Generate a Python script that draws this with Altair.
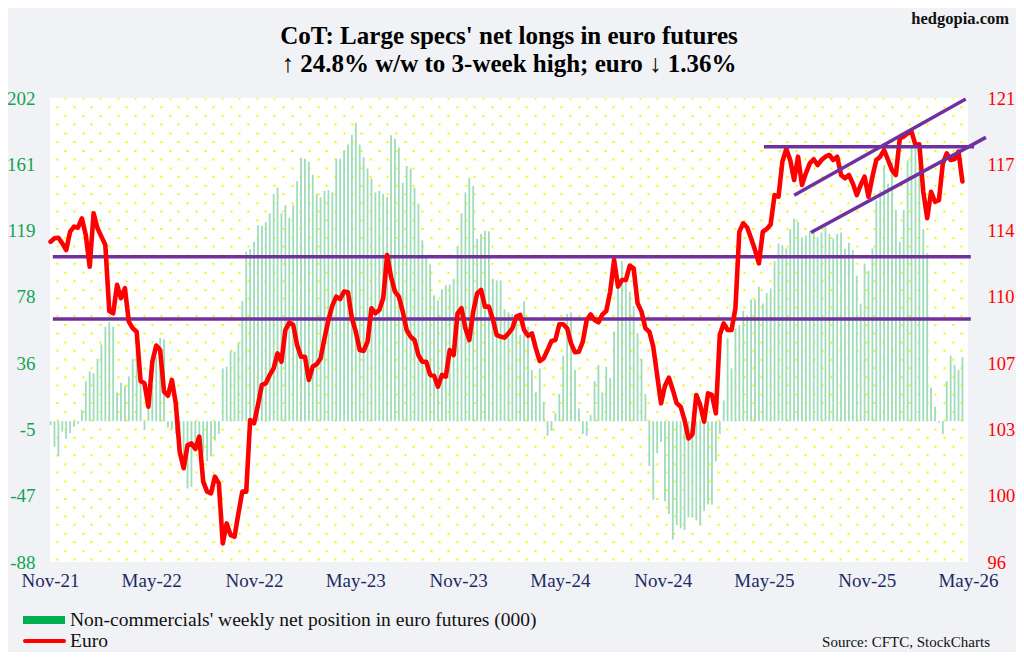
import altair as alt
import pandas as pd

# ---------------- data ----------------
start_date = pd.Timestamp("2021-11-02")

net_position = [
    -2.5, -16, -22, -6.5, -11, -7.5, -3.5, -1.5, 7, 25,
    31, 30, 39, 48, 59, 62, 59, 18, 24, 22,
    28, 39, 45.5, 25, -5.5, 16, 22.6, 40, 52, 51,
    -4, -5, -8, -12, -30, -42, -41, -18, -11, -20,
    -25, -22, -12, -8, 33, 34, 44, 43.5, 49, 75,
    106, 107.5, 112, 122.5, 122, 124.5, 130, 142, 146, 130,
    135, 127, 135, 150, 164.6, 164, 162, 154, 142, 140,
    144, 144.5, 143, 164, 164, 169, 173, 179, 186.5, 173,
    165, 158, 151.6, 143, 144, 142, 140, 178.7, 176.6, 171,
    149, 159.5, 158, 146, 136, 113, 102.7, 98, 78.7, 75.6,
    82.5, 85, 85.4, 89, 109, 130, 143, 152, 147, 114,
    117, 119, 118.7, 89, 88, 88, 70, 68, 67, 62,
    54, 75, 59, 32, 18, 33, 12, -9, -6, 5,
    17, 41, 67, 68, 32, 8, -8, -9, 4, 25,
    35, 18, 34, 27, 56, 88, 100, 88, 81, 72,
    55, 39, 17, -28, -49, -20, -13, -50, -58, -74,
    -65, -67, -68, -60, -60, -62, -65, -56, -52, -52,
    -25, -8, 13, 52, 33, 58, 60, 69, 66, 76,
    76, 84, 73.5, 80, 83, 100, 111, 110, 108, 120,
    126.6, 124.5, 115, 116, 119, 120, 115, 118, 121.5, 117,
    114, 117, 118, 108, 111.6, 107, 91, 73.5, 98.5, 94,
    108, 138, 144, 160, 148.5, 162, 132, 112, 132, 163,
    171, 173, 165, 120, 105, 21, 9, -1, -8, 25,
    41, 35, 32, 40,
]

euro = [
    113.26, 113.44, 113.47, 113.17, 112.81, 113.80, 114.07, 114.01, 114.52, 113.62,
    111.91, 114.79, 113.98, 113.53, 113.08, 109.52, 109.40, 110.93, 110.21, 110.75,
    108.95, 108.59, 108.41, 105.75, 105.63, 104.37, 106.79, 107.66, 107.42, 105.18,
    104.96, 105.81, 104.55, 101.94, 101.05, 102.30, 102.39, 102.09, 102.75, 100.33,
    99.79, 99.70, 100.60, 100.24, 97.00, 98.08, 97.45, 97.36, 98.62, 99.79,
    99.79, 103.65, 103.47, 104.46, 105.54, 105.63, 106.08, 106.43, 107.24, 106.79,
    108.50, 108.90, 108.77, 107.69, 107.06, 107.06, 105.81, 106.53, 106.65, 106.97,
    108.05, 109.04, 109.81, 110.30, 110.17, 110.57, 110.53, 109.13, 108.41, 107.42,
    107.37, 107.87, 109.67, 109.40, 109.58, 110.21, 112.54, 111.37, 110.57, 110.30,
    109.49, 108.50, 108.14, 107.96, 107.15, 106.79, 106.79, 106.08, 106.04, 105.45,
    106.08, 105.99, 107.42, 107.15, 109.40, 109.67, 108.59, 107.96, 109.49, 110.47,
    110.66, 109.76, 109.76, 109.09, 108.23, 108.14, 108.09, 108.32, 108.59, 109.22,
    109.31, 108.50, 108.19, 108.32, 107.51, 106.83, 106.97, 107.42, 107.91, 107.96,
    108.81, 108.81, 108.59, 107.78, 107.30, 107.33, 107.87, 109.04, 109.34, 109.04,
    108.91, 109.34, 109.52, 110.57, 112.27, 110.84, 111.19, 111.19, 111.97, 111.82,
    109.94, 109.49, 108.59, 108.41, 107.60, 106.07, 104.55, 105.50, 105.93, 105.27,
    104.55, 104.37, 103.65, 102.66, 102.88, 105.00, 104.46, 103.56, 105.09, 105.00,
    104.01, 108.23, 108.86, 108.50, 108.50, 109.67, 113.80, 114.25, 114.02, 113.44,
    112.81, 112.09, 113.80, 113.94, 114.19, 115.77, 115.68, 117.57, 118.25, 117.66,
    116.58, 117.84, 116.31, 116.94, 117.48, 117.70, 117.39, 117.66, 117.84, 117.93,
    117.66, 117.84, 116.85, 116.67, 116.85, 116.40, 115.77, 116.31, 116.76, 115.68,
    116.76, 117.66, 117.84, 118.20, 117.66, 117.12, 116.85, 118.83, 118.92, 119.10,
    119.19, 118.47, 118.50, 115.95, 114.52, 115.95, 115.41, 115.50, 117.48, 118.02,
    117.66, 117.71, 118.11, 116.50,
]

# purple trend lines (segment id, start date, start value, end date, end value)
trend_seg = ["h_low", "h_mid", "h_top", "ch_up", "ch_low"]
trend_d0 = ["2021-11-06", "2021-11-06", "2025-05-01", "2025-06-24", "2025-07-24"]
trend_v0 = [109.09, 112.45, 118.37, 115.76, 113.75]
trend_d1 = ["2026-05-06", "2026-05-06", "2026-05-12", "2026-04-27", "2026-06-02"]
trend_v1 = [109.09, 112.45, 118.37, 120.95, 118.88]

tick_months = [(2021, 11), (2022, 5), (2022, 11), (2023, 5), (2023, 11),
               (2024, 5), (2024, 11), (2025, 5), (2025, 11), (2026, 5)]

left_domain = [-88, 202]
right_domain = [96, 121]

title_line1 = "CoT: Large specs' net longs in euro futures"
title_line2 = "\u2191 24.8% w/w to 3-week high; euro \u2193 1.36%"
legend_net = "Non-commercials' weekly net position in euro futures (000)"
legend_euro = "Euro"
source_text = "Source: CFTC, StockCharts"
site_text = "hedgopia.com"

# ---------------- tables ----------------
dates = [(start_date + pd.Timedelta(days=7 * i)).strftime("%Y-%m-%dT00:00:00")
         for i in range(len(euro))]
df = pd.DataFrame({"date": dates, "net": net_position, "euro": euro})

rows = []
for s, d0, v0, d1, v1 in zip(trend_seg, trend_d0, trend_v0, trend_d1, trend_v1):
    rows.append({"seg": s, "date": d0 + "T00:00:00", "val": v0})
    rows.append({"seg": s, "date": d1 + "T00:00:00", "val": v1})
trend = pd.DataFrame(rows)
trend_lo = trend[trend.seg.isin(["h_low", "h_mid"])]
trend_hi = trend[~trend.seg.isin(["h_low", "h_mid"])]

FONT = "Liberation Serif"
W, H = 918, 464

x_domain = [alt.DateTime(year=2021, month=11, date=1), alt.DateTime(year=2026, month=5, date=1)]
xscale = alt.Scale(domain=x_domain)
tick_vals = [alt.DateTime(year=y, month=m, date=1) for y, m in tick_months]

x_axis = alt.Axis(values=tick_vals, format="%b-%y", labelFont=FONT, labelFontSize=19,
                  labelColor="#1c2a66", ticks=False, tickSize=0, domain=False, grid=False,
                  labelPadding=9, labelFlush=False, labelOverlap=False, title=None)

n_ticks = 8
left_vals = [left_domain[0] + k * (left_domain[1] - left_domain[0]) / (n_ticks - 1) for k in range(n_ticks)]
right_vals = [right_domain[0] + k * (right_domain[1] - right_domain[0]) / (n_ticks - 1) for k in range(n_ticks)]

left_axis = alt.Axis(orient="left", values=left_vals, labelExpr="'' + round(datum.value)",
                     labelFont=FONT, labelFontSize=19, labelColor="#12a454", ticks=False,
                     tickSize=0, domain=False, grid=False, labelPadding=15, title=None,
                     labelOverlap=False)
right_axis = alt.Axis(orient="right", values=right_vals, labelExpr="'' + round(datum.value)",
                      labelFont=FONT, labelFontSize=18.5, labelColor="#ff0000", ticks=False,
                      tickSize=0, domain=False, grid=False, labelPadding=19, title=None,
                      labelOverlap=False)
right_scale = alt.Scale(domain=right_domain, nice=False, zero=False)

# ---------------- background dotted pattern (axis grid) ----------------
n_cols = 105
dots = pd.DataFrame({"k": list(range(n_cols))})
dot_layer = alt.Chart(dots).mark_rule(opacity=0).encode(
    x=alt.X("k:Q", scale=alt.Scale(domain=[-0.77, 104.75], nice=False, zero=False),
            axis=alt.Axis(orient="top", values=list(range(n_cols)), labels=False, ticks=False,
                          domain=False, grid=True, gridColor="#f4f400", gridWidth=2,
                          gridDash=[2, 15.4], gridOpacity=1,
                          gridDashOffset={"condition": {"test": "datum.value % 2 === 0", "value": 9.7},
                                          "value": 0.7},
                          title=None))
)

# ---------------- data layers ----------------
bars = alt.Chart(df).mark_rule(color="#9edcba", strokeWidth=1.8).encode(
    x=alt.X("date:T", scale=xscale, axis=x_axis),
    y=alt.Y("net:Q", scale=alt.Scale(domain=left_domain, nice=False, zero=False), axis=left_axis),
    y2=alt.datum(0),
)

purple_lo = alt.Chart(trend_lo).mark_line(color="#7030a0", strokeWidth=3.5).encode(
    x=alt.X("date:T", scale=xscale, axis=None),
    y=alt.Y("val:Q", scale=right_scale, axis=right_axis),
    detail="seg:N",
)
red = alt.Chart(df).mark_line(color="#ff0000", strokeWidth=4.6, strokeJoin="round",
                              strokeCap="round").encode(
    x=alt.X("date:T", scale=xscale, axis=None),
    y=alt.Y("euro:Q", scale=right_scale, axis=right_axis),
)
purple_hi = alt.Chart(trend_hi).mark_line(color="#7030a0", strokeWidth=3.5).encode(
    x=alt.X("date:T", scale=xscale, axis=None),
    y=alt.Y("val:Q", scale=right_scale, axis=right_axis),
    detail="seg:N",
)
euro_group = alt.layer(purple_lo, red, purple_hi)

# ---------------- titles, legend & notes (placed in pixel space) ----------------
one = alt.Data(values=[{}])


def label(text, x, y, size, align="left", weight="normal", color="#111111"):
    return alt.Chart(one).mark_text(align=align, baseline="middle", font=FONT, fontSize=size,
                                    fontWeight=weight, color=color).encode(
        x=alt.value(x), y=alt.value(y), text=alt.value(text))


title1 = label(title_line1, 459, -62, 25, align="center", weight="bold", color="#000000")
title2 = label(title_line2, 459, -34, 25, align="center", weight="bold", color="#000000")
site = label(site_text, 959, -79, 16.5, align="right", weight="bold")
leg_rect = alt.Chart(one).mark_rect(color="#00b050").encode(
    x=alt.value(-27), x2=alt.value(15), y=alt.value(518), y2=alt.value(526))
leg_net = label(legend_net, 20, 522, 19.5)
leg_line = alt.Chart(one).mark_rule(color="#ff0000", strokeWidth=4, strokeCap="round").encode(
    x=alt.value(-25), x2=alt.value(14), y=alt.value(543))
leg_euro = label(legend_euro, 20, 543, 19.5)
src = label(source_text, 940, 544, 15, align="right")

chart = alt.layer(
    dot_layer, bars, euro_group, title1, title2, site, leg_rect, leg_net, leg_line, leg_euro, src
).resolve_scale(
    x="independent", y="independent"
).properties(
    width=W, height=H,
    background="#f0f2f5",
    padding={"left": 42, "top": 90, "right": 48, "bottom": 90},
    autosize=alt.AutoSizeParams(type="none"),
).configure_view(fill="#ffffff", strokeWidth=0)

chart.save("out.html", embed_options={"renderer": "svg", "actions": False})
